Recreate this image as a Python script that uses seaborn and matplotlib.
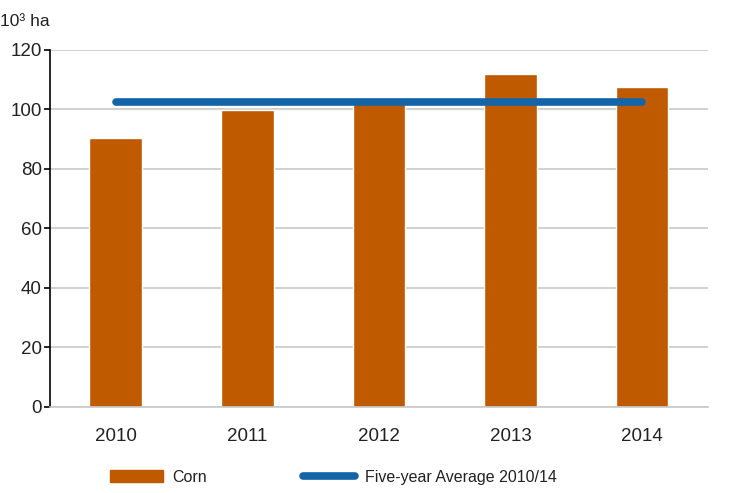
import numpy as np
import pandas as pd
import matplotlib.pyplot as plt
import seaborn as sns
from matplotlib.lines import Line2D
from matplotlib.patches import Patch

years = ['2010', '2011', '2012', '2013', '2014']
corn = [90.2, 99.8, 103.0, 111.9, 107.6]
avg_2010_14 = 102.5

data = pd.DataFrame({'year': years, 'corn': corn})

sns.set_style('white')
plt.rcParams['font.family'] = ['Liberation Sans', 'DejaVu Sans']

fig = plt.figure(figsize=(7.46, 4.93), dpi=100)
ax = fig.add_axes([0.067, 0.175, 0.882, 0.724])

sns.barplot(data=data, x='year', y='corn', color='#C05A00', saturation=1,
            width=0.4, ax=ax, zorder=2)
ax.plot(range(len(years)), [avg_2010_14] * len(years), color='#1464A8',
        lw=5.5, solid_capstyle='round', zorder=3)

ax.set_ylim(0, 120)
ax.set_xlim(-0.5, 4.5)
ax.set_yticks(range(0, 121, 20))
ax.yaxis.grid(True, color='#c8c8c8', lw=1.2, zorder=0)
ax.set_axisbelow(True)
for s in ['top', 'right']:
    ax.spines[s].set_visible(False)
ax.spines['left'].set_color('black')
ax.spines['left'].set_linewidth(1.2)
ax.spines['bottom'].set_color('#c8c8c8')
ax.spines['bottom'].set_linewidth(1.2)
ax.tick_params(axis='y', length=4, width=1.2, color='black', left=True,
               labelsize=13.5, colors='#222222', pad=2)
ax.tick_params(axis='x', length=0, labelsize=13.5, colors='#222222', pad=15)
ax.set_xlabel('')
ax.set_ylabel('')

fig.text(0.0, 0.947, '10³ ha', fontsize=12.5, color='#222222')

handles = [Patch(color='#C05A00'),
           Line2D([0], [0], color='#1464A8', lw=5.5, solid_capstyle='round')]
fig.legend(handles, ['Corn', 'Five-year Average 2010/14'],
           loc='lower left', bbox_to_anchor=(0.128, -0.012), ncol=2,
           frameon=False, fontsize=11.5, handlelength=3.3, handletextpad=0.6,
           columnspacing=6.0, handleheight=0.8, labelcolor='#222222')

fig.savefig('out.png', dpi=100)
